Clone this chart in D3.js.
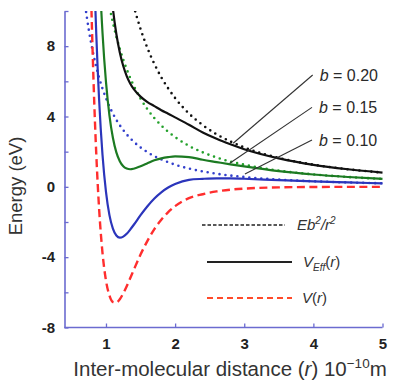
<!DOCTYPE html>
<html>
<head>
<meta charset="utf-8">
<script src="https://cdn.jsdelivr.net/npm/d3@7"></script>
<style>
  html, body { margin: 0; padding: 0; background: #fff; }
  svg { display: block; font-family: "Liberation Sans", Arial, Helvetica, sans-serif; }
</style>
</head>
<body>
<svg id="chart" width="394" height="382"></svg>
<script>
// Inter-molecular distance grid (10^-10 m)
const rGrid = [0.70, 0.75, 0.80, 0.82, 0.84, 0.86, 0.88, 0.90, 0.95, 1.00, 1.05, 1.10, 1.15, 1.20, 1.25,
  1.30, 1.35, 1.40, 1.50, 1.60, 1.70, 1.80, 1.90, 2.00, 2.20, 2.40, 2.60, 2.80, 3.00, 3.50, 4.00, 4.50, 5.00];

// Interaction potential V(r), eV
const vR = [29.3, 17.2, 8.63, 6.01, 3.75, 1.83, 0.19, -1.21, -3.77, -5.33, -6.18, -6.55, -6.58, -6.39, -6.06,
  -5.65, -5.20, -4.74, -3.85, -3.07, -2.40, -1.87, -1.44, -1.10, -0.64, -0.42, -0.26, -0.16, -0.10, -0.03, -0.01, 0.00, 0.00];

// Centrifugal term E b^2 / r^2 for each impact parameter
const cent010 = [10.29, 8.96, 7.88, 7.50, 7.14, 6.81, 6.51, 6.22, 5.58, 5.04, 4.57, 4.17, 3.81, 3.50, 3.23,
  2.98, 2.77, 2.57, 2.24, 1.97, 1.74, 1.56, 1.40, 1.26, 1.04, 0.875, 0.745, 0.643, 0.56, 0.41, 0.315, 0.249, 0.20];
const cent015 = [23.06, 20.09, 17.66, 16.81, 16.01, 15.28, 14.59, 13.95, 12.52, 11.30, 10.25, 9.34, 8.54, 7.85, 7.23,
  6.69, 6.20, 5.77, 5.02, 4.41, 3.91, 3.49, 3.13, 2.83, 2.33, 1.96, 1.67, 1.44, 1.26, 0.92, 0.71, 0.56, 0.45];
const cent020 = [41.2, 35.9, 31.6, 30.0, 28.6, 27.3, 26.1, 24.9, 22.4, 20.2, 18.32, 16.69, 15.27, 14.03, 12.93,
  11.95, 11.08, 10.31, 8.98, 7.89, 6.99, 6.23, 5.60, 5.05, 4.17, 3.51, 2.99, 2.58, 2.24, 1.65, 1.26, 1.00, 0.81];

// Effective potential V_Eff(r) for each impact parameter
const veff010 = [39.6, 26.2, 16.51, 13.51, 10.89, 8.64, 6.70, 5.01, 1.81, -0.29, -1.61, -2.38, -2.77, -2.89, -2.83,
  -2.67, -2.43, -2.17, -1.61, -1.10, -0.66, -0.31, -0.04, 0.16, 0.40, 0.455, 0.485, 0.483, 0.46, 0.38, 0.305, 0.25, 0.20];
const veff015 = [52.4, 37.3, 26.3, 22.8, 19.76, 17.11, 14.78, 12.74, 8.75, 5.97, 4.07, 2.79, 1.96, 1.46, 1.17,
  1.04, 1.00, 1.03, 1.17, 1.34, 1.51, 1.62, 1.69, 1.73, 1.69, 1.54, 1.41, 1.28, 1.16, 0.89, 0.70, 0.56, 0.45];
const veff020 = [70.5, 53.1, 40.2, 36.0, 32.4, 29.1, 26.3, 23.7, 18.6, 14.87, 12.14, 10.14, 8.69, 7.64, 6.87,
  6.30, 5.88, 5.57, 5.13, 4.82, 4.59, 4.36, 4.16, 3.95, 3.53, 3.09, 2.73, 2.42, 2.14, 1.62, 1.25, 1.00, 0.81];

// Impact-parameter labels and where their leader lines meet the curves
const bLabels = ["b = 0.20", "b = 0.15", "b = 0.10"];
const bLabelAt = [[3.99, 6.36], [3.98, 4.52], [3.98, 2.66]];
const bCurveAt = [[2.84, 2.48], [2.79, 1.34], [3.01, 0.73]];

// Axis ticks
const xTicks = [1, 2, 3, 4, 5];
const yTicks = [-8, -6, -4, -2, 0, 2, 4, 6, 8, 10];
const yTickLabels = [-8, -4, 0, 4, 8];

const svg = d3.select("#chart");
const x = d3.scaleLinear().domain([0.4, 5]).range([64.5, 382.5]);
const y = d3.scaleLinear().domain([-8, 10]).range([327.5, 11]);

const axisColor = "#6b6bd0";

svg.append("defs").append("clipPath").attr("id", "plot")
  .append("rect").attr("x", x(0.4)).attr("y", y(10)).attr("width", x(5) - x(0.4) + 4).attr("height", y(-8) - y(10));

const plot = svg.append("g").attr("clip-path", "url(#plot)");

const line = vals => d3.line()
  .x((d, i) => x(rGrid[i]))
  .y(d => y(d))
  .curve(d3.curveMonotoneX)(vals);

const series = [
  { vals: cent010, color: "#3340cc", dotted: true },
  { vals: cent015, color: "#22a02a", dotted: true },
  { vals: cent020, color: "#111111", dotted: true },
  { vals: vR, color: "#ff2e2e", dashed: true },
  { vals: veff010, color: "#2b35bb" },
  { vals: veff015, color: "#1c7a22" },
  { vals: veff020, color: "#111111" }
];

series.forEach(s => {
  const p = plot.append("path")
    .attr("d", line(s.vals))
    .attr("fill", "none")
    .attr("stroke", s.color);
  if (s.dotted) {
    p.attr("stroke-width", 2.6).attr("stroke-linecap", "round").attr("stroke-dasharray", "0 6");
  } else if (s.dashed) {
    p.attr("stroke-width", 2.4).attr("stroke-dasharray", "8 4.5");
  } else {
    p.attr("stroke-width", 2.2);
  }
});

// Axes
const yAxis = d3.axisLeft(y)
  .tickValues(yTicks)
  .tickSize(-4)
  .tickSizeOuter(0)
  .tickPadding(9.5)
  .tickFormat(d => yTickLabels.includes(d) ? String(d) : "");
const gy = svg.append("g").attr("transform", `translate(${x(0.4)},0)`).call(yAxis);

const xAxis = d3.axisBottom(x)
  .tickValues(xTicks)
  .tickSize(-4)
  .tickSizeOuter(0)
  .tickPadding(11)
  .tickFormat(d3.format("d"));
const gx = svg.append("g").attr("transform", `translate(0,${y(-8)})`).call(xAxis);

[gx, gy].forEach(g => {
  g.select(".domain").attr("stroke", axisColor).attr("stroke-width", 1.6);
  g.selectAll(".tick line").attr("stroke", axisColor).attr("stroke-width", 1.3);
  g.selectAll(".tick text")
    .attr("fill", "#222")
    .attr("font-size", 15)
    .attr("font-weight", "bold")
    .attr("font-family", "'Liberation Sans', Arial, sans-serif");
});
// bottom axis runs from the y-axis line to r = 5
gx.select(".domain").attr("d", `M${x(0.4)},0H${x(5)}`);

// Axis titles
const xt = svg.append("text")
  .attr("x", 230).attr("y", 376)
  .attr("text-anchor", "middle")
  .attr("font-size", 20.5)
  .attr("fill", "#333");
xt.append("tspan").text("Inter-molecular distance (");
xt.append("tspan").attr("font-style", "italic").text("r");
xt.append("tspan").text(") 10");
xt.append("tspan").attr("font-size", 13.5).attr("dy", -8).text("\u221210");
xt.append("tspan").attr("dy", 8).text("m");

svg.append("text")
  .attr("transform", `translate(22,186) rotate(-90)`)
  .attr("text-anchor", "middle")
  .attr("font-size", 18.5)
  .attr("fill", "#333")
  .text("Energy (eV)");

// Impact-parameter leader lines and labels
bLabels.forEach((lab, i) => {
  svg.append("line")
    .attr("x1", x(bLabelAt[i][0])).attr("y1", y(bLabelAt[i][1]))
    .attr("x2", x(bCurveAt[i][0])).attr("y2", y(bCurveAt[i][1]))
    .attr("stroke", "#333").attr("stroke-width", 1.1);
  const t = svg.append("text")
    .attr("x", x(bLabelAt[i][0]) + 7)
    .attr("y", y(bLabelAt[i][1]))
    .attr("dy", "0.36em")
    .attr("font-size", 16)
    .attr("fill", "#2a2a2a");
  t.append("tspan").attr("font-style", "italic").text(lab.slice(0, 1));
  t.append("tspan").text(lab.slice(1));
});

// Legend
const legend = svg.append("g");
legend.append("line").attr("x1", 202).attr("x2", 285).attr("y1", 225).attr("y2", 225)
  .attr("stroke", "#222").attr("stroke-width", 1.6).attr("stroke-dasharray", "3.5 2");
legend.append("line").attr("x1", 207).attr("x2", 292).attr("y1", 262).attr("y2", 262)
  .attr("stroke", "#222").attr("stroke-width", 2);
legend.append("line").attr("x1", 207).attr("x2", 292).attr("y1", 298).attr("y2", 298)
  .attr("stroke", "#ff4a2a").attr("stroke-width", 2).attr("stroke-dasharray", "6 4");

const l1 = legend.append("text").attr("x", 297).attr("y", 230).attr("font-size", 15).attr("fill", "#333")
  .attr("font-style", "italic");
l1.append("tspan").text("Eb");
l1.append("tspan").attr("font-size", 10).attr("dy", -6).text("2");
l1.append("tspan").attr("dy", 6).text("/r");
l1.append("tspan").attr("font-size", 10).attr("dy", -6).text("2");

const l2 = legend.append("text").attr("x", 303).attr("y", 267).attr("font-size", 15).attr("fill", "#333")
  .attr("font-style", "italic");
l2.append("tspan").text("V");
l2.append("tspan").attr("font-size", 10).attr("dy", 4).text("Eff");
l2.append("tspan").attr("dy", -4).attr("font-style", "normal").text("(");
l2.append("tspan").text("r");
l2.append("tspan").attr("font-style", "normal").text(")");

const l3 = legend.append("text").attr("x", 302).attr("y", 303).attr("font-size", 15).attr("fill", "#333")
  .attr("font-style", "italic");
l3.append("tspan").text("V");
l3.append("tspan").attr("font-style", "normal").text("(");
l3.append("tspan").text("r");
l3.append("tspan").attr("font-style", "normal").text(")");
</script>
</body>
</html>
